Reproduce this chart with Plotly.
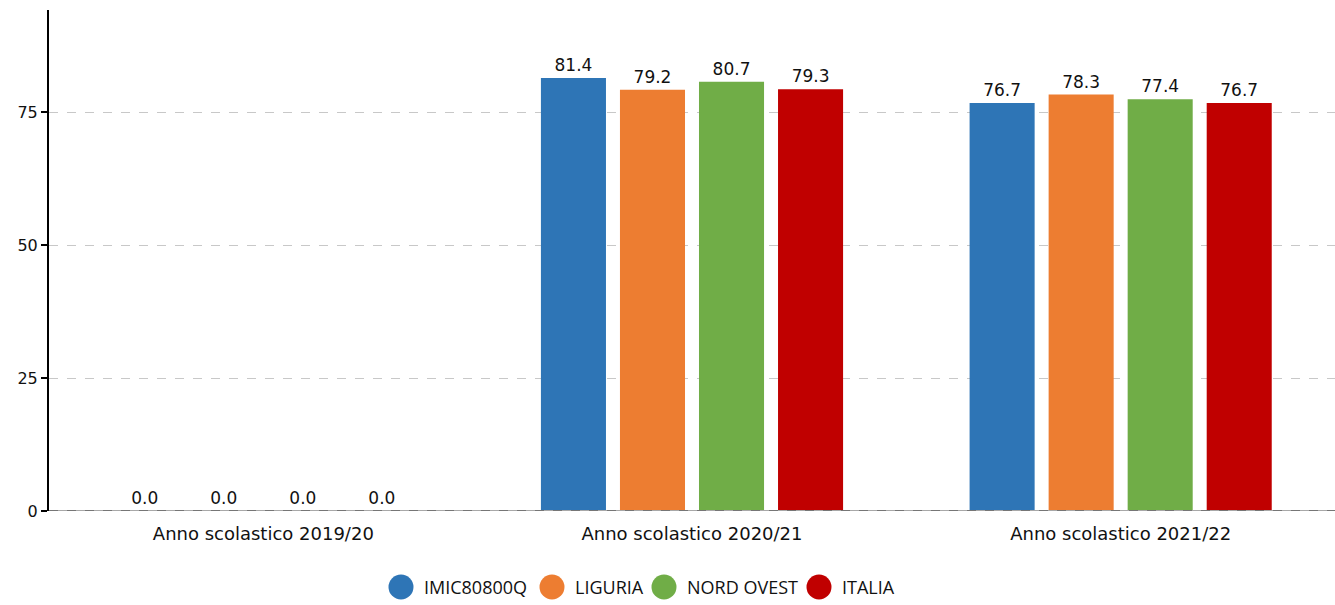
import plotly.graph_objects as go

categories = ["Anno scolastico 2019/20", "Anno scolastico 2020/21", "Anno scolastico 2021/22"]
series_names = ["IMIC80800Q", "LIGURIA", "NORD OVEST", "ITALIA"]
imic = [0.0, 81.4, 76.7]
liguria = [0.0, 79.2, 78.3]
nord_ovest = [0.0, 80.7, 77.4]
italia = [0.0, 79.3, 76.7]
colors = ["#2e75b6", "#ed7d31", "#70ad47", "#c00000"]
y_ticks = [0, 25, 50, 75]

values = [imic, liguria, nord_ovest, italia]

W, H = 1335, 605
ML, MR, MT, MB = 49, 0, 10, 94
PW = W - ML - MR
PH = H - MT - MB

fig = go.Figure()
for name, vals, col in zip(series_names, values, colors):
    fig.add_trace(go.Bar(
        x=categories, y=vals, name=name, marker_color=col,
        marker_line_width=0,
        texttemplate="%{y:.1f}",
        textposition="outside", cliponaxis=False,
        textfont=dict(family="DejaVu Sans", size=17, color="#111111"),
        showlegend=False,
    ))

# baseline: light solid line with dark dashes on top
fig.add_shape(type="line", xref="paper", yref="y", x0=0, x1=1, y0=0, y1=0,
              line=dict(color="#a8a8a8", width=2), layer="above")
fig.add_shape(type="line", xref="paper", yref="y", x0=0, x1=1, y0=0, y1=0,
              line=dict(color="#444444", width=1, dash="dash"), layer="above")

# custom legend with large circle markers (pixel positions)
circle_px = [401, 552, 664, 819]
legend_y_px = 587
for name, col, cx in zip(series_names, colors, circle_px):
    xp = (cx - ML) / PW
    yp = (MT + PH - legend_y_px) / PH
    fig.add_shape(type="circle", xref="paper", yref="paper",
                  xsizemode="pixel", ysizemode="pixel",
                  xanchor=xp, yanchor=yp, x0=-12.5, x1=12.5, y0=-12.5, y1=12.5,
                  fillcolor=col, line_width=0)
    fig.add_annotation(xref="paper", yref="paper", x=(cx + 21 - ML) / PW, y=yp,
                       xanchor="left", yanchor="middle", showarrow=False, text=name,
                       font=dict(family="Open Sans", size=18, color="#111111"))

fig.update_layout(
    width=W, height=H,
    margin=dict(l=ML, r=MR, t=MT, b=MB, autoexpand=False),
    plot_bgcolor="white", paper_bgcolor="white",
    barmode="group", bargap=0.2625, bargroupgap=0.177,
    font=dict(family="DejaVu Sans", size=16, color="#111111"),
    showlegend=False,
)
fig.update_xaxes(showline=False, ticks="", showgrid=False, automargin=False,
                 ticklabelstandoff=10,
                 tickfont=dict(family="DejaVu Sans", size=18, color="#111111"))
fig.update_yaxes(range=[0, 94.2], tickvals=y_ticks, showline=True, linecolor="black", linewidth=2,
                 automargin=False,
                 ticks="outside", ticklen=6, tickcolor="black", tickwidth=2,
                 showgrid=True, gridcolor="#c8c8c8", griddash="dash", gridwidth=1,
                 zeroline=False,
                 tickfont=dict(family="DejaVu Sans", size=16, color="#111111"))
fig.write_html("out.html", config={"displayModeBar": False},
               post_script="document.body.style.margin='0px';document.body.style.padding='0px';")
